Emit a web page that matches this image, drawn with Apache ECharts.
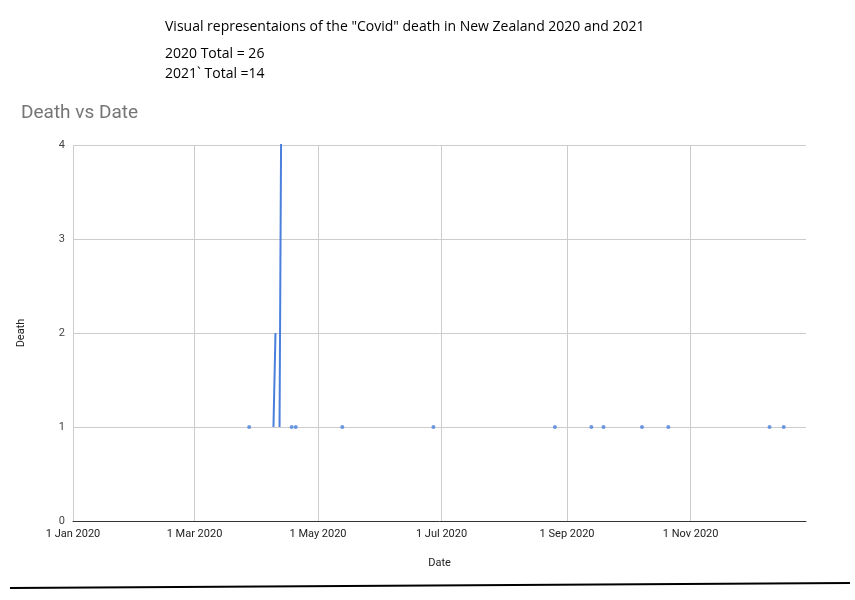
<!DOCTYPE html>
<html><head><meta charset="utf-8">
<script src="https://cdn.jsdelivr.net/npm/echarts@6/dist/echarts.min.js"></script>
<style>html,body{margin:0;padding:0;background:#fff}#c{width:855px;height:600px}</style>
</head><body><div id="c"></div>
<script>
// connected (consecutive-day) segments; null breaks the line
const lineDates = ['2020-04-09','2020-04-10','2020-04-11','2020-04-12','2020-04-13'];
const lineValues = [1, 2, null, 1, 5];
// isolated single deaths
const dotDates = ['2020-03-28','2020-04-18','2020-04-20','2020-05-13','2020-06-27','2020-08-26','2020-09-13','2020-09-19','2020-10-08','2020-10-21','2020-12-10','2020-12-17'];
const dotValues = [1,1,1,1,1,1,1,1,1,1,1,1];
const tickDates = ['2020-01-01','2020-03-01','2020-05-01','2020-07-01','2020-09-01','2020-11-01'];
const tickLabels = ['1 Jan 2020','1 Mar 2020','1 May 2020','1 Jul 2020','1 Sep 2020','1 Nov 2020'];
const yTicks = [0,1,2,3,4];

const base = Date.UTC(2020,0,1);
const day = s => Math.round((Date.parse(s+'T00:00:00Z')-base)/86400000);
const tickDays = tickDates.map(day);
const labelOf = {}; tickDays.forEach((d,i)=>labelOf[d]=tickLabels[i]);

const chart = echarts.init(document.getElementById('c'));
chart.setOption({
  animation:false,
  textStyle:{fontFamily:'Roboto, Arial, sans-serif'},
  title:{text:'Death vs Date',left:16,top:99,textStyle:{color:'#757575',fontSize:19,fontWeight:'normal',fontFamily:'Roboto, Arial, sans-serif'}},
  graphic:[
    {type:'text',left:165,top:20,style:{text:'Visual representaions of the "Covid" death in New Zealand 2020 and 2021',font:'14px "Open Sans", sans-serif',fill:'#000'}},
    {type:'text',left:165,top:47,style:{text:'2020 Total = 26',font:'14px "Open Sans", sans-serif',fill:'#000'}},
    {type:'text',left:165,top:67,style:{text:'2021` Total =14',font:'14px "Open Sans", sans-serif',fill:'#000'}},
    {type:'line',shape:{x1:10,y1:588,x2:850,y2:583},style:{stroke:'#000',lineWidth:2}}
  ],
  grid:{left:73,right:49,top:145,bottom:79},
  xAxis:{type:'value',min:0,max:362,name:'Date',nameLocation:'middle',nameGap:37,
    nameTextStyle:{color:'#222',fontSize:11},
    axisLine:{lineStyle:{color:'#333'}},axisTick:{show:false,customValues:tickDays},
    axisLabel:{customValues:tickDays,color:'#222',fontSize:11,formatter:v=>labelOf[v]||''},
    splitLine:{show:true,lineStyle:{color:'#ccc'}}},
  yAxis:{type:'value',min:0,max:4,interval:1,name:'Death',nameLocation:'middle',nameGap:46,
    nameTextStyle:{color:'#222',fontSize:11},
    axisLine:{show:false},axisTick:{show:false},
    axisLabel:{color:'#444',fontSize:11,formatter:v=>yTicks.includes(v)?String(v):''},
    splitLine:{lineStyle:{color:'#ccc'}}},
  series:[
    {type:'line',data:lineDates.map((d,i)=>[day(d),lineValues[i]]),showSymbol:false,connectNulls:false,
     lineStyle:{color:'#4a7fdc',width:2},clip:true},
    {type:'scatter',data:dotDates.map((d,i)=>[day(d),dotValues[i]]),symbolSize:4,itemStyle:{color:'#4a7fdc'}}
  ]
});
</script></body></html>
